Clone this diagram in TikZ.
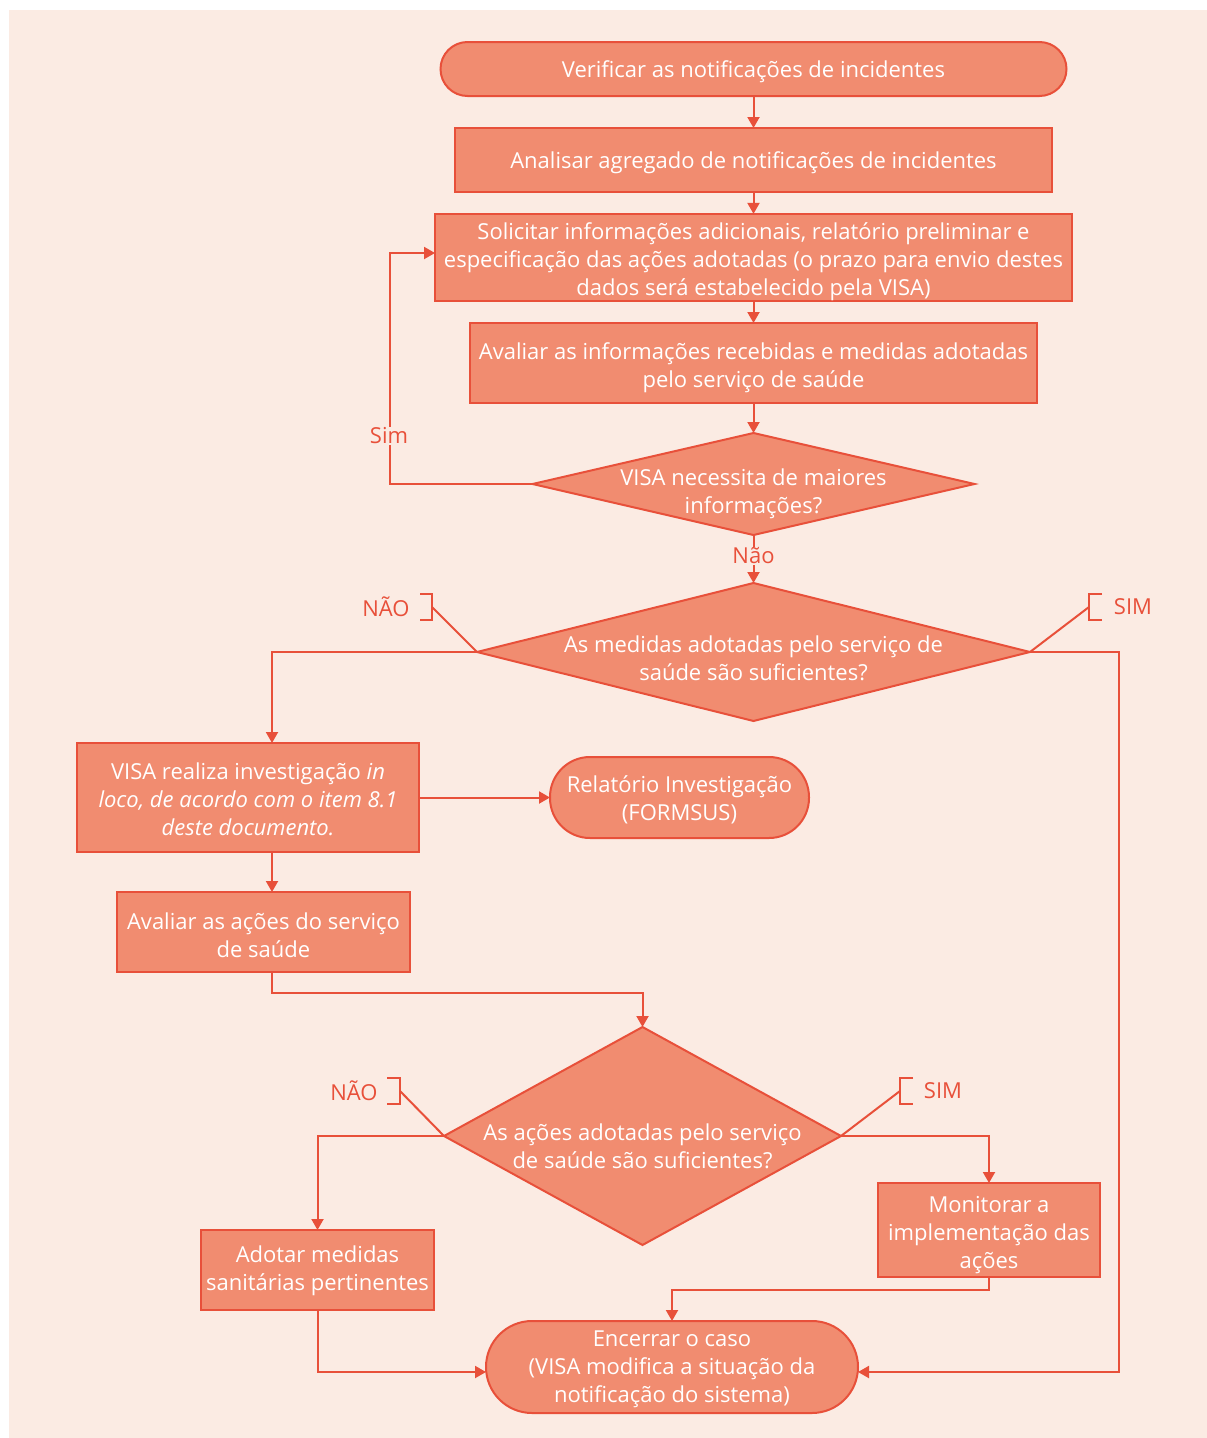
\documentclass[tikz,border=0pt]{standalone}
\usepackage{fontspec}
\setmainfont{Open Sans}
\usetikzlibrary{shapes.geometric,arrows.meta}
\definecolor{bgc}{HTML}{FBEBE3}
\definecolor{fillc}{HTML}{F18C70}
\definecolor{linec}{HTML}{E8503A}
\newcommand{\myfont}{\fontsize{22}{28}\selectfont}
\newcommand{\botstrut}{\rule[-5pt]{0pt}{5pt}}
\newcommand{\tu}[1]{\rule{0pt}{#1pt}}
\tikzset{
  base/.style={draw=linec, fill=fillc, line width=2pt, outer sep=0pt, inner sep=0pt, text=white, align=center, font=\myfont},
  struts/.style={execute at end node=\botstrut},
  procbox/.style={base, struts, rectangle},
  term/.style={base, struts, rectangle},
  dia/.style={base, diamond, aspect=1},
  txt/.style={text=white, align=center, inner sep=0pt, font=\myfont, struts},
  lbl/.style={text=linec, fill=bgc, inner sep=1pt, font=\myfont},
  lbltxt/.style={text=linec, inner sep=0pt, font=\myfont},
  arr/.style={draw=linec, line width=2pt, -{Triangle[length=11pt,width=12pt]}},
  conn/.style={draw=linec, line width=2pt},
}
\begin{document}
\begin{tikzpicture}[x=1pt,y=-1pt]
\useasboundingbox (0,0) rectangle (1207,1438);
\fill[bgc] (9,10) rectangle (1207,1438);

% nodes
\node[term, minimum width=626, minimum height=54, rounded corners=27] (t1) at (753.5,69) {\tu{23}Verificar as notificações de incidentes};
\node[procbox, minimum width=597, minimum height=64] (b2) at (753.5,160) {\tu{23}Analisar agregado de notificações de incidentes};
\node[procbox, minimum width=637, minimum height=87] (b3) at (753.5,257.5) {\tu{26}Solicitar informações adicionais, relatório preliminar e\\especificação das ações adotadas (o prazo para envio destes\\dados será estabelecido pela VISA)};
\node[procbox, minimum width=567, minimum height=80] (b4) at (753.5,363) {\tu{27}Avaliar as informações recebidas e medidas adotadas\\pelo serviço de saúde};
\node[dia, minimum width=442, minimum height=102] (d1) at (753.5,484) {};
\node[txt] (d1t) at (753.5,494) {VISA necessita de maiores\\informações?};
\node[dia, minimum width=553, minimum height=138] (d2) at (753.5,652) {};
\node[txt] (d2t) at (753.5,661) {As medidas adotadas pelo serviço de\\saúde são suficientes?};
\node[procbox, minimum width=342, minimum height=109] (v1) at (248,797.5) {\tu{25}VISA realiza investigação \textit{in}\\\textit{loco, de acordo com o item 8.1}\\\textit{deste documento.}};
\node[term, minimum width=259, minimum height=81, rounded corners=40] (r8) at (679.5,797.5) {\tu{23}Relatório Investigação\\(FORMSUS)};
\node[procbox, minimum width=293, minimum height=80] (b9) at (263.5,932) {\tu{27}Avaliar as ações do serviço\\de saúde};
\node[dia, minimum width=397, minimum height=218] (d3) at (642.5,1136) {};
\node[txt] (d3t) at (642.5,1149) {As ações adotadas pelo serviço\\de saúde são suficientes?};
\node[procbox, minimum width=233, minimum height=80] (b11) at (317.5,1270) {\tu{19}Adotar medidas\\sanitárias pertinentes};
\node[procbox, minimum width=222, minimum height=94] (b12) at (989,1230) {\tu{27}Monitorar a\\implementação das\\ações};
\node[term, minimum width=372, minimum height=92, rounded corners=46] (t13) at (672,1367) {\tu{21}Encerrar o caso\\(VISA modifica a situação da\\notificação do sistema)};

% labels with brackets
\node[lbltxt] (n1) at (386,607) {NÃO};
\coordinate (n1b) at (432,607);
\draw[conn] (420,594) -- (432,594) -- (432,620) -- (420,620);
\node[lbltxt] (s1) at (1133,607) {SIM};
\coordinate (s1b) at (1089,607);
\draw[conn] (1102,594) -- (1089,594) -- (1089,620) -- (1102,620);
\node[lbltxt] (n2) at (354,1091) {NÃO};
\coordinate (n2b) at (400,1091);
\draw[conn] (387,1078) -- (400,1078) -- (400,1104) -- (387,1104);
\node[lbltxt] (s2) at (943,1091) {SIM};
\coordinate (s2b) at (900,1091);
\draw[conn] (913,1078) -- (900,1078) -- (900,1104) -- (913,1104);

% connectors
\draw[arr] (t1.south) -- (b2.north);
\draw[arr] (b2.south) -- (b3.north);
\draw[arr] (b3.south) -- (b4.north);
\draw[arr] (b4.south) -- (d1.north);
\draw[arr] (d1.west) -- ++(-143,0) coordinate (c1) |- ([yshift=4.5]b3.west);
\node[lbl] (sim) at (389,436) {Sim};
\draw[arr] (d1.south) -- (d2.north);
\node[lbl] (nao) at (753.5,556) {Não};
\draw[conn] (n1b) -- (d2.west);
\draw[conn] (s1b) -- (d2.east);
\draw[arr] (d2.west) -| ([xshift=24]v1.north);
\draw[arr] (d2.east) -- ++(89,0) |- ([yshift=-5]t13.east);
\draw[arr] (v1.east) -- (r8.west);
\draw[arr] ([xshift=24]v1.south) -- ([xshift=8.5]b9.north);
\draw[arr] ([xshift=8.5]b9.south) -- ++(0,21) -| (d3.north);
\draw[conn] (n2b) -- (d3.west);
\draw[conn] (s2b) -- (d3.east);
\draw[arr] (d3.west) -| (b11.north);
\draw[arr] (d3.east) -| (b12.north);
\draw[arr] (b12.south) -- ++(0,13) -| (t13.north);
\draw[arr] (b11.south) |- ([yshift=-5]t13.west);
\end{tikzpicture}
\end{document}
